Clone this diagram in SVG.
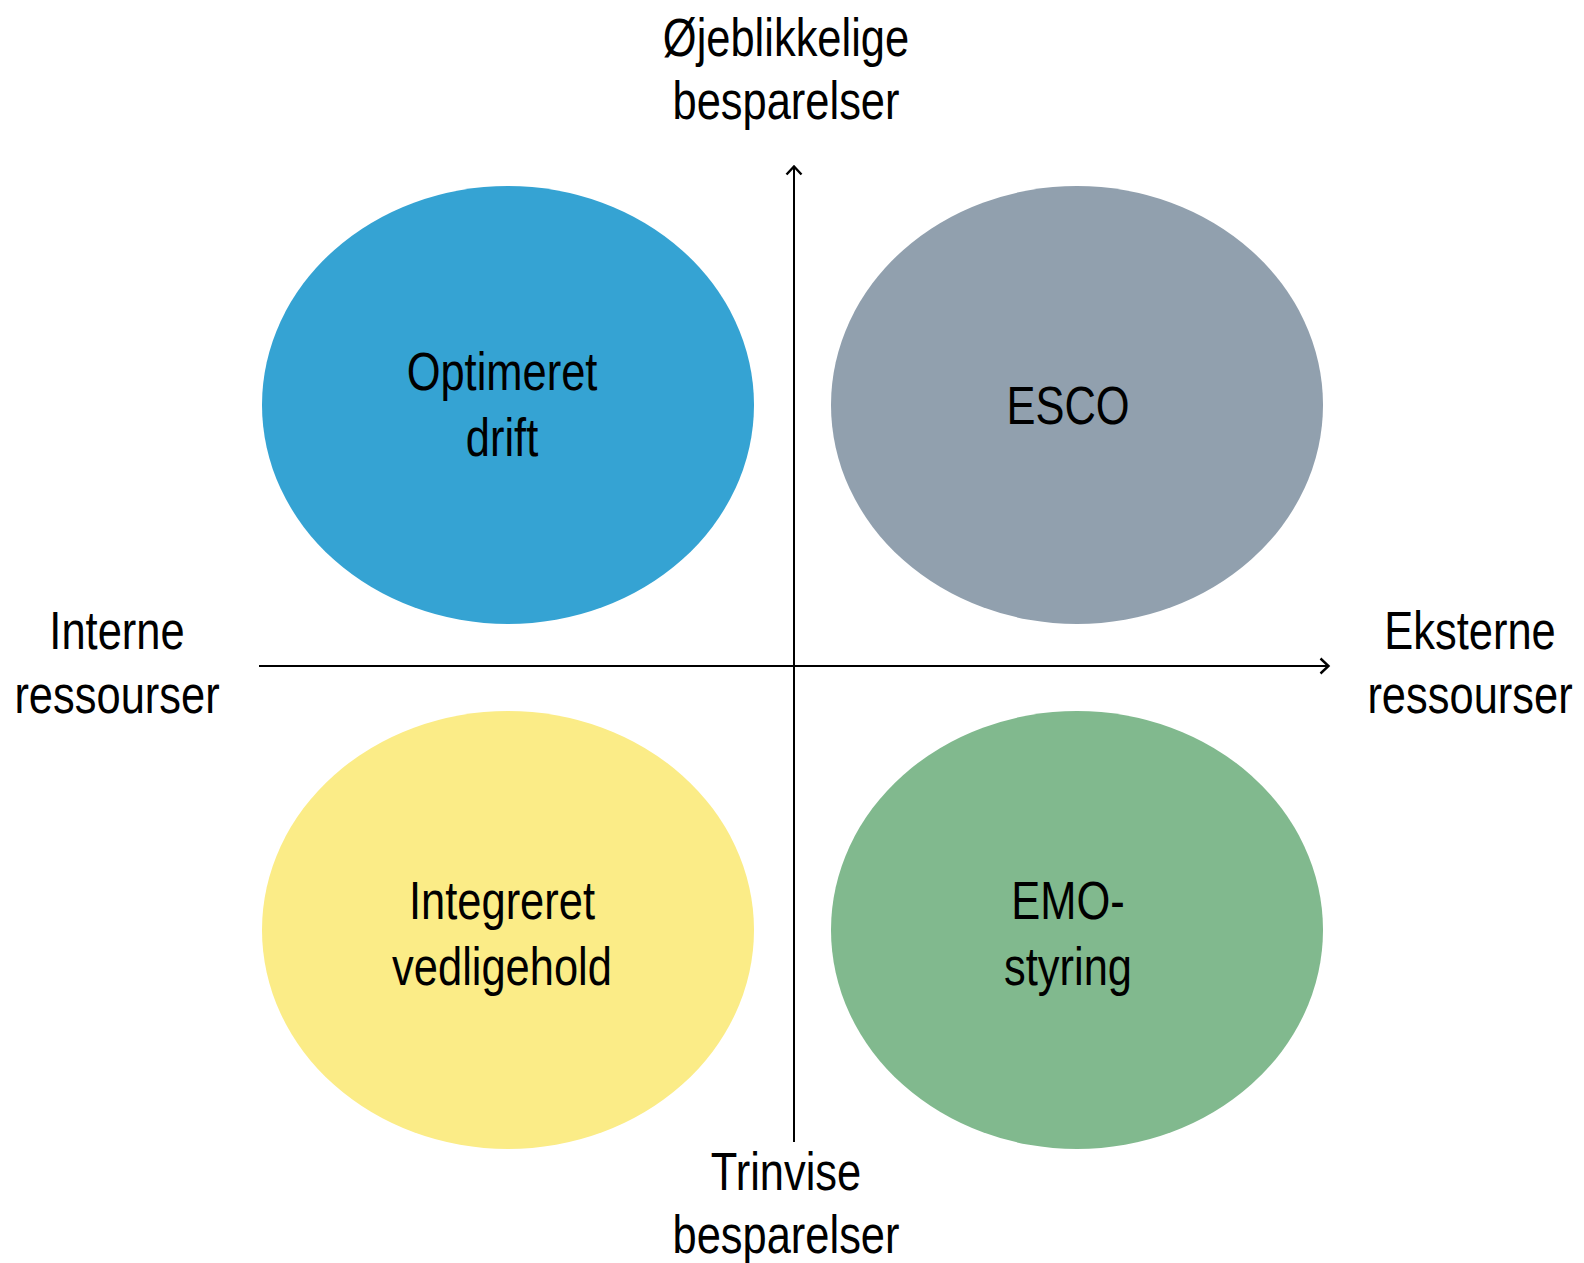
<svg xmlns="http://www.w3.org/2000/svg" width="1584" height="1263" viewBox="0 0 1584 1263">
<style>
text{font-family:"Liberation Sans",Arial,sans-serif;font-size:53px;fill:#000;text-anchor:middle}
.ax{stroke:#000;stroke-width:2;fill:none}
</style>
<defs>
<marker id="arr" viewBox="0 0 12 18" refX="10.5" refY="9" markerWidth="12" markerHeight="18" markerUnits="userSpaceOnUse" orient="auto">
<path d="M2 1.5 L10 9 L2 16.5" fill="none" stroke="#000" stroke-width="2.4"/>
</marker>
</defs>
<rect width="1584" height="1263" fill="#fff"/>
<g id="n1"><ellipse cx="508" cy="405" rx="246" ry="219" fill="#35A3D3"/><text transform="translate(502,390) scale(0.82,1)">Optimeret</text><text transform="translate(502,456) scale(0.82,1)">drift</text></g>
<g id="n2"><ellipse cx="1077" cy="405" rx="246" ry="219" fill="#91A0AE"/><text transform="translate(1068,424) scale(0.82,1)">ESCO</text></g>
<g id="n3"><ellipse cx="508" cy="930" rx="246" ry="219" fill="#FBEC87"/><text transform="translate(502,919) scale(0.82,1)">Integreret</text><text transform="translate(502,985) scale(0.82,1)">vedligehold</text></g>
<g id="n4"><ellipse cx="1077" cy="930" rx="246" ry="219" fill="#81B98E"/><text transform="translate(1068,919) scale(0.82,1)">EMO-</text><text transform="translate(1068,985) scale(0.82,1)">styring</text></g>
<g id="connectors">
<line class="ax" x1="794" y1="1142" x2="794" y2="166" marker-end="url(#arr)"/>
<line class="ax" x1="259" y1="666" x2="1329" y2="666" marker-end="url(#arr)"/>
</g>
<g id="labels">
<text transform="translate(786,56) scale(0.82,1)">Øjeblikkelige</text><text transform="translate(786,119) scale(0.82,1)">besparelser</text>
<text transform="translate(117,649) scale(0.82,1)">Interne</text><text transform="translate(117,713) scale(0.82,1)">ressourser</text>
<text transform="translate(1470,649) scale(0.82,1)">Eksterne</text><text transform="translate(1470,713) scale(0.82,1)">ressourser</text>
<text transform="translate(786,1190) scale(0.82,1)">Trinvise</text><text transform="translate(786,1253) scale(0.82,1)">besparelser</text>
</g>
</svg>
